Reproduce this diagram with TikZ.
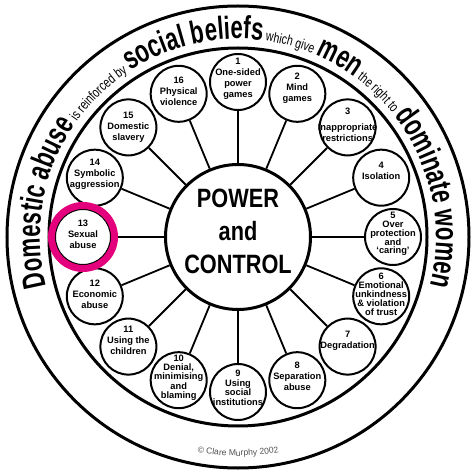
\documentclass[tikz,border=0pt]{standalone}
\usepackage{fontspec}
\setmainfont{Liberation Sans}
\newfontfamily\ringfont[FakeStretch=0.75]{Liberation Sans}
\newfontfamily\ringbigfont[FakeStretch=0.69]{Liberation Sans}
\newfontfamily\centerfont[FakeStretch=0.82]{Liberation Sans}
\usetikzlibrary{decorations.text}
\definecolor{pinkring}{RGB}{228,0,124}
\definecolor{copygray}{RGB}{80,80,80}
\setlength{\lineskiplimit}{-20pt}
\newcommand{\bigring}{\ringbigfont\bfseries\fontsize{32}{32}\selectfont}
\newcommand{\smallring}{\ringfont\mdseries\fontsize{14}{14}\selectfont}
\newcommand{\copyfont}{\fontsize{8.6}{9}\selectfont\color{copygray}}
\tikzset{
  bub/.style={circle, draw, line width=2pt, minimum size=56pt, inner sep=0pt},
  btxt/.style={align=center, inner sep=0pt, font=\bfseries\fontsize{9.3}{11}\selectfont},
  btight/.style={align=center, inner sep=0pt, font=\bfseries\fontsize{9.3}{9.2}\selectfont},
  conn/.style={line width=1.8pt},
}
\begin{document}
\begin{tikzpicture}[x=1pt,y=1pt]
\useasboundingbox (-238,-239) rectangle (236,237);
\draw[line width=3pt] (0,0) circle[radius=231pt];
\draw[line width=3pt] (0,0) circle[radius=189pt];
\path[decorate, decoration={text along path, text align=center,
  text={|\bigring|Domestic abuse|\smallring| is reinforced by |\bigring|social beliefs|\smallring| which give |\bigring|men|\smallring| the right to |\bigring|dominate women}}]
  (200:198pt) arc[start angle=200, end angle=-20, radius=198pt];
\path[decorate, decoration={text along path, text align=center,
  text={|\copyfont|© Clare Murphy 2002}}]
  (-125:219pt) arc[start angle=-125, end angle=-55, radius=219pt];
\node[circle, draw, line width=3pt, minimum size=145pt, inner sep=0pt] (c) at (0,0) {};
\node[align=center, inner sep=0pt, font=\centerfont\bfseries\fontsize{26.5}{33}\selectfont] (ctext) at (0,5.5) {POWER\\and\\CONTROL};
\foreach \i in {1,...,16} {
  \node[bub] (b\i) at ({90-22.5*(\i-1)}:155pt) {};
  \draw[conn] (c) -- (b\i);
}
\node[circle, draw=pinkring, line width=7pt, minimum size=63pt, inner sep=0pt] (pink) at (b13) {};
\node[btxt] (t1) at ([yshift=3pt]b1.center) {1\\One-sided\\power\\games};
\node[btxt] (t2) at ([yshift=6pt]b2.center) {2\\Mind\\games};
\node[btxt] (t3) at ([yshift=3pt]b3.center) {3\\[5pt]Inappropriate\\restrictions};
\node[btxt] (t4) at ([yshift=7pt]b4.center) {4\\Isolation};
\node[btight, font=\bfseries\fontsize{9.3}{8.8}\selectfont] (t5) at ([yshift=3pt]b5.center) {5\\Over\\protection\\and\\‘caring’};
\node[btight] (t6) at ([yshift=2pt]b6.center) {6\\Emotional\\unkindness\\\& violation\\of trust};
\node[btxt] (t7) at ([yshift=6pt]b7.center) {7\\Degradation};
\node[btxt] (t8) at ([yshift=4pt]b8.center) {8\\Separation\\abuse};
\node[btight, font=\bfseries\fontsize{9.3}{9.5}\selectfont] (t9) at ([yshift=4pt]b9.center) {9\\Using\\social\\institutions};
\node[btight] (t10) at ([yshift=2.5pt]b10.center) {10\\Denial,\\minimising\\and\\blaming};
\node[btxt] (t11) at ([yshift=6pt]b11.center) {11\\Using the\\children};
\node[btxt] (t12) at ([yshift=2pt]b12.center) {12\\Economic\\abuse};
\node[btxt] (t13) at ([yshift=3pt]b13.center) {13\\Sexual\\abuse};
\node[btxt] (t14) at ([yshift=3pt]b14.center) {14\\Symbolic\\aggression};
\node[btxt] (t15) at (b15.center) {15\\Domestic\\slavery};
\node[btxt] (t16) at ([yshift=3pt]b16.center) {16\\Physical\\violence};
\end{tikzpicture}
\end{document}
